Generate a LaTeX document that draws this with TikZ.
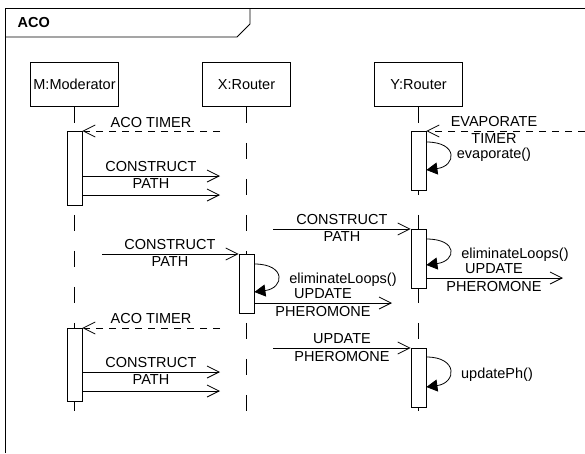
\documentclass[tikz,border=0pt]{standalone}
\usepackage{fontspec}
\setmainfont{Liberation Sans}
\usetikzlibrary{arrows.meta}

\tikzset{
  objbox/.style={draw, minimum width=88pt, minimum height=44pt, inner sep=0pt},
  actbar/.style={draw, fill=white, minimum width=15pt, inner sep=0pt, anchor=north},
  lifeline/.style={dash pattern=on 16pt off 20pt},
  callmsg/.style={-{Straight Barb[length=12pt,width=12pt]}},
  retmsg/.style={callmsg, dash pattern=on 7pt off 6pt},
  selfmsg/.style={-{Triangle[length=11pt,width=12pt]}},
  lbl/.style={anchor=base, inner sep=0pt},
}

\begin{document}
\begin{tikzpicture}[x=1pt,y=-1pt,line width=0.8pt,
    font=\fontsize{14.5}{17}\selectfont]
  \useasboundingbox (0,0) rectangle (585,453);

  % frame and its tab
  \draw (5,453) -- (5,8) -- (585,8);
  \draw (5,37) -- (237,37) -- (250,24) -- (250,8);
  \node[anchor=west, font=\fontsize{14.5}{17}\selectfont\bfseries] (title) at (14,23) {ACO};

  % objects
  \node[objbox] (mod) at (74.5,84.5) {M:Moderator};
  \node[objbox] (xr) at (246.5,84.5) {X:Router};
  \node[objbox] (yr) at (418.5,84.5) {Y:Router};

  \coordinate (mEnd) at (74.5,425);
  \coordinate (xEnd) at (246.5,425);
  \coordinate (yEnd) at (418.5,425);
  \draw[lifeline] (mod.south) -- (mEnd);
  \draw[lifeline] (xr.south) -- (xEnd);
  \draw[lifeline] (yr.south) -- (yEnd);

  % activations
  \node[actbar, minimum height=74pt] (mAct1) at (74.5,131) {};
  \node[actbar, minimum height=73pt] (mAct2) at (74.5,328) {};
  \node[actbar, minimum height=59pt] (xAct) at (246.5,254) {};
  \node[actbar, minimum height=59pt] (yAct1) at (418.5,131) {};
  \node[actbar, minimum height=59pt] (yAct2) at (418.5,229) {};
  \node[actbar, minimum height=59pt] (yAct3) at (418.5,348) {};

  % free ends of the messages
  \coordinate (tim1) at (220,131);
  \coordinate (cp1) at (220,176);
  \coordinate (cp2) at (220,195);
  \coordinate (evap) at (585,131);
  \coordinate (cpY) at (273,229);
  \coordinate (upY) at (563,278);
  \coordinate (cpX) at (102,254);
  \coordinate (upX) at (392,303);
  \coordinate (tim2) at (220,328);
  \coordinate (cp3) at (220,372);
  \coordinate (cp4) at (220,391);
  \coordinate (upY3) at (273,348);

  % moderator, first round
  \draw[retmsg] (tim1) -- (mAct1.north east);
  \node[lbl] at (151,127) {ACO TIMER};
  \draw[callmsg] ([yshift=-45pt]mAct1.north east) -- (cp1);
  \draw[callmsg] ([yshift=-64pt]mAct1.north east) -- (cp2);
  \node[lbl] at (151,171) {CONSTRUCT};
  \node[lbl] at (151,188) {PATH};

  % Y evaporates
  \draw[retmsg] (evap) -- (yAct1.north east);
  \node[lbl] at (494,126) {EVAPORATE};
  \node[lbl] at (494,143) {TIMER};
  \draw[selfmsg] ([yshift=-11pt]yAct1.north east)
    .. controls +(32,0) and +(30,-4) .. ([yshift=-39pt]yAct1.north east);
  \node[lbl] at (494,158) {evaporate()};

  % Y gets a path
  \draw[callmsg] (cpY) -- (yAct2.north west);
  \node[lbl] at (342,224) {CONSTRUCT};
  \node[lbl] at (342,241) {PATH};
  \draw[selfmsg] ([yshift=-10pt]yAct2.north east)
    .. controls +(32,0) and +(30,-4) .. ([yshift=-36pt]yAct2.north east);
  \node[lbl] at (515,258) {eliminateLoops()};
  \draw[callmsg] ([yshift=-49pt]yAct2.north east) -- (upY);
  \node[lbl] at (494,273) {UPDATE};
  \node[lbl] at (494,291) {PHEROMONE};

  % X gets a path
  \draw[callmsg] (cpX) -- (xAct.north west);
  \node[lbl] at (170,249) {CONSTRUCT};
  \node[lbl] at (170,266) {PATH};
  \draw[selfmsg] ([yshift=-10pt]xAct.north east)
    .. controls +(32,0) and +(30,-4) .. ([yshift=-38pt]xAct.north east);
  \node[lbl] at (343,283) {eliminateLoops()};
  \draw[callmsg] ([yshift=-49pt]xAct.north east) -- (upX);
  \node[lbl] at (323,298) {UPDATE};
  \node[lbl] at (323,316) {PHEROMONE};

  % moderator, second round
  \draw[retmsg] (tim2) -- (mAct2.north east);
  \node[lbl] at (151,323) {ACO TIMER};
  \draw[callmsg] ([yshift=-44pt]mAct2.north east) -- (cp3);
  \draw[callmsg] ([yshift=-63pt]mAct2.north east) -- (cp4);
  \node[lbl] at (151,367) {CONSTRUCT};
  \node[lbl] at (151,384) {PATH};

  % Y updates pheromone
  \draw[callmsg] (upY3) -- (yAct3.north west);
  \node[lbl] at (342,343) {UPDATE};
  \node[lbl] at (342,361) {PHEROMONE};
  \draw[selfmsg] ([yshift=-9pt]yAct3.north east)
    .. controls +(32,0) and +(30,-4) .. ([yshift=-39pt]yAct3.north east);
  \node[lbl] at (497,378) {updatePh()};
\end{tikzpicture}
\end{document}
